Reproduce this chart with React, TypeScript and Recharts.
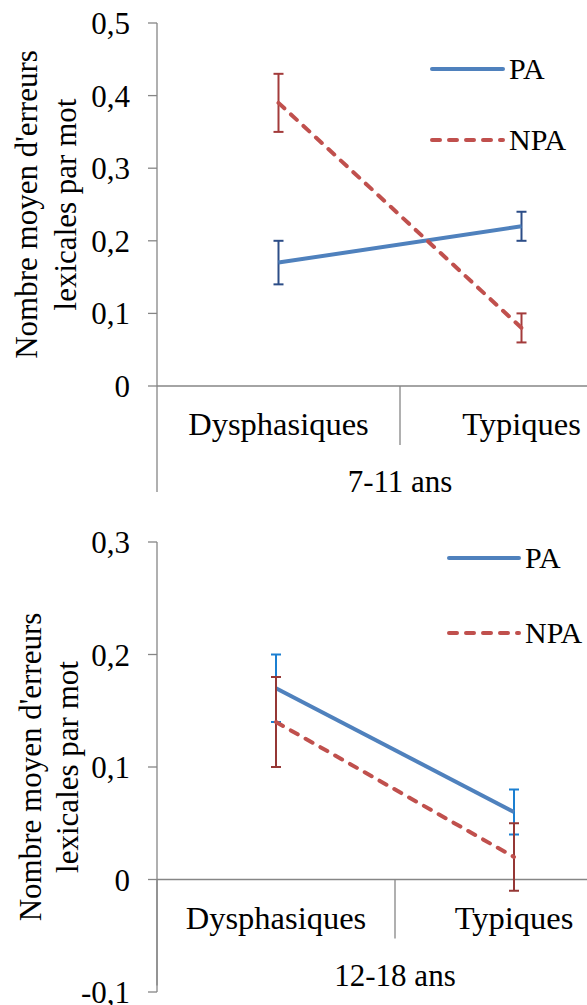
import React from 'react';
import { LineChart, Line, XAxis, YAxis, ErrorBar, ReferenceLine, Legend } from 'recharts';

const categories = ['Dysphasiques', 'Typiques'];
const seriesNames = ['PA', 'NPA'];
const groupLabels = ['7-11 ans', '12-18 ans'];

const pa711 = [0.17, 0.22];
const pa711Err = [0.03, 0.02];
const npa711 = [0.39, 0.08];
const npa711Err = [0.04, 0.02];

const pa1218 = [0.17, 0.06];
const pa1218Err = [0.03, 0.02];
const npa1218 = [0.14, 0.02];
const npa1218Err = [0.04, 0.03];

const yTicks711 = [0, 0.1, 0.2, 0.3, 0.4, 0.5];
const yTicks1218 = [-0.1, 0, 0.1, 0.2, 0.3];

const yLabelLines = ["Nombre moyen d'erreurs", 'lexicales par mot'];

const FONT = '"Liberation Serif", Tinos, "Times New Roman", "Nimbus Roman", serif';
const AXIS = '#868686';
const PA_COLOR = '#4F81BD';
const NPA_COLOR = '#C0504D';
const DASH = '8 9';

const build = (pa: number[], paErr: number[], npa: number[], npaErr: number[]) =>
  categories.map((c, i) => ({
    cat: c,
    PA: pa[i],
    PAerr: paErr[i],
    NPA: npa[i],
    NPAerr: npaErr[i],
  }));

const fmt = (v: number) => String(Math.round(v * 10) / 10).replace('.', ',');

type PanelProps = {
  data: any[];
  domain: [number, number];
  ticks: number[];
  top: number;
  height: number;
  margin: { top: number; right: number; bottom: number; left: number };
  yLabelX: number[];
  groupLabel: string;
  legendLeft: number;
  legendTop: number;
  legendRowH: number;
  legendLineLen: number;
  paErrColor: string;
  npaErrColor: string;
};

function Panel(p: PanelProps) {
  const yLabel = (props: any) => {
    const vb = props.viewBox || {};
    const cy = vb.y + vb.height / 2;
    return (
      <g>
        {yLabelLines.map((t, i) => (
          <text
            key={i}
            x={p.yLabelX[i]}
            y={cy}
            transform={`rotate(-90 ${p.yLabelX[i]} ${cy})`}
            textAnchor="middle"
            dominantBaseline="central"
            fontSize={31}
            fontFamily={FONT}
            fill="#000"
          >
            {t}
          </text>
        ))}
      </g>
    );
  };

  const axisDecor = (props: any) => {
    const vb = props.viewBox || {};
    const x0 = vb.x;
    const y0 = vb.y;
    const w = vb.width;
    const bw = w / categories.length;
    return (
      <g>
        <line x1={x0} y1={y0} x2={x0} y2={y0 + 106} stroke={AXIS} strokeWidth={1.3} />
        {categories.slice(1).map((_, i) => (
          <line
            key={'s' + i}
            x1={x0 + bw * (i + 1)}
            y1={y0}
            x2={x0 + bw * (i + 1)}
            y2={y0 + 59}
            stroke={AXIS}
            strokeWidth={1.3}
          />
        ))}
        {categories.map((c, i) => (
          <text
            key={'c' + i}
            x={x0 + bw * (i + 0.5)}
            y={y0 + 49}
            textAnchor="middle"
            fontSize={32.5}
            fontFamily={FONT}
            fill="#000"
          >
            {c}
          </text>
        ))}
        <text x={x0 + w / 2} y={y0 + 106} textAnchor="middle" fontSize={31} fontFamily={FONT} fill="#000">
          {p.groupLabel}
        </text>
      </g>
    );
  };

  const legendContent = (props: any) => {
    const payload = [...(props.payload || [])].sort(
      (a: any, b: any) => seriesNames.indexOf(a.value) - seriesNames.indexOf(b.value)
    );
    return (
      <div style={{ fontFamily: FONT }}>
        {payload.map((e: any, i: number) => {
          const dashed = e.value === 'NPA';
          return (
            <div key={i} style={{ display: 'flex', alignItems: 'center', height: p.legendRowH }}>
              <svg width={p.legendLineLen + 4} height={8} style={{ display: 'block' }}>
                <line
                  x1={2}
                  y1={4}
                  x2={p.legendLineLen + 2}
                  y2={4}
                  stroke={e.color}
                  strokeWidth={4}
                  strokeLinecap="round"
                  strokeDasharray={dashed ? DASH : undefined}
                />
              </svg>
              <span style={{ fontSize: 30, lineHeight: 1, color: '#000', marginLeft: 4, fontFamily: FONT }}>
                {e.value}
              </span>
            </div>
          );
        })}
      </div>
    );
  };

  return (
    <div style={{ position: 'absolute', left: 0, top: p.top }}>
      <LineChart width={660} height={p.height} data={p.data} margin={p.margin}>
        <XAxis dataKey="cat" scale="band" hide />
        <YAxis
          width={150}
          domain={p.domain}
          ticks={p.ticks}
          interval={0}
          tickFormatter={fmt}
          axisLine={{ stroke: AXIS, strokeWidth: 1.3 }}
          tickLine={{ stroke: AXIS, strokeWidth: 1.3 }}
          tickSize={9}
          tickMargin={18}
          tick={{ fontSize: 31, fill: '#000', fontFamily: FONT }}
          allowDataOverflow
          label={{ content: yLabel }}
        />
        <ReferenceLine y={0} stroke={AXIS} strokeWidth={1.3} label={{ content: axisDecor }} />
        <Legend
          layout="vertical"
          align="center"
          verticalAlign="middle"
          content={legendContent}
          wrapperStyle={{ left: p.legendLeft, top: p.legendTop, width: 170 }}
        />
        <Line
          name={seriesNames[0]}
          dataKey="PA"
          type="linear"
          stroke={PA_COLOR}
          strokeWidth={4}
          dot={false}
          activeDot={false}
          isAnimationActive={false}
        >
          <ErrorBar dataKey="PAerr" width={5} strokeWidth={2} stroke={p.paErrColor} direction="y" isAnimationActive={false} />
        </Line>
        <Line
          name={seriesNames[1]}
          dataKey="NPA"
          type="linear"
          stroke={NPA_COLOR}
          strokeWidth={4}
          strokeDasharray={DASH}
          strokeLinecap="round"
          dot={false}
          activeDot={false}
          isAnimationActive={false}
        >
          <ErrorBar dataKey="NPAerr" width={5} strokeWidth={2} stroke={p.npaErrColor} direction="y" isAnimationActive={false} />
        </Line>
      </LineChart>
    </div>
  );
}

export default function App() {
  const data711 = build(pa711, pa711Err, npa711, npa711Err);
  const data1218 = build(pa1218, pa1218Err, npa1218, npa1218Err);
  return (
    <div
      style={{
        position: 'absolute',
        left: 0,
        top: 0,
        width: 587,
        height: 1005,
        overflow: 'hidden',
        background: '#fff',
      }}
    >
      <Panel
        data={data711}
        domain={[0, 0.5]}
        ticks={yTicks711}
        top={0}
        height={503}
        margin={{ top: 23, right: 17, bottom: 117, left: 7 }}
        yLabelX={[26, 65]}
        groupLabel={groupLabels[0]}
        legendLeft={430}
        legendTop={33.5}
        legendRowH={71}
        legendLineLen={71}
        paErrColor="#2C4D87"
        npaErrColor="#A33B3B"
      />
      <Panel
        data={data1218}
        domain={[-0.1, 0.3]}
        ticks={yTicks1218}
        top={520}
        height={485}
        margin={{ top: 22, right: 27, bottom: 13, left: 7 }}
        yLabelX={[30, 67.5]}
        groupLabel={groupLabels[1]}
        legendLeft={447}
        legendTop={0.5}
        legendRowH={75}
        legendLineLen={70}
        paErrColor="#1B7FD1"
        npaErrColor="#953735"
      />
    </div>
  );
}
